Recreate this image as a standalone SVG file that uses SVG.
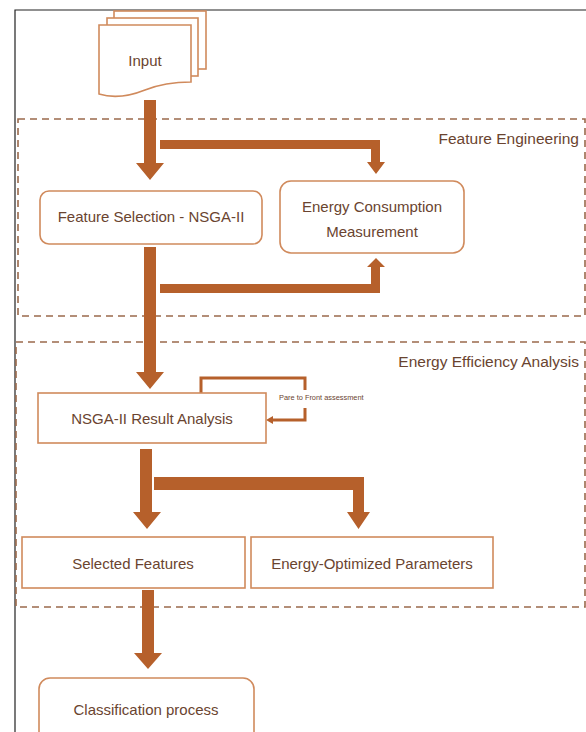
<svg xmlns="http://www.w3.org/2000/svg" width="586" height="732" viewBox="0 0 586 732">
<style>
.frame{fill:none;stroke:#222;stroke-width:1.2}
.group{fill:none;stroke:#9a6a4c;stroke-width:1.6;stroke-dasharray:7 5}
.box{fill:#fff;stroke:#d08a5c;stroke-width:1.6}
.arrow{fill:#b6602b;stroke:none}
.loop{fill:none;stroke:#b6602b;stroke-width:3}
text{font-family:"Liberation Sans",Arial,sans-serif;fill:#6a4430}
.t{font-size:15px;text-anchor:middle}
.g{font-size:15.5px;text-anchor:end}
.s{font-size:7.4px}
</style>
<rect width="586" height="732" fill="#fff"/>
<path class="frame" d="M586,10 H15 V732"/>
<g id="feature-engineering">
<path class="group" d="M18,119 H585 V316 H18 Z"/>
<text class="g" x="579" y="144">Feature Engineering</text>
</g>
<g id="energy-efficiency-analysis">
<path class="group" d="M16,342 H585 V607 H16 Z"/>
<text class="g" x="579" y="367">Energy Efficiency Analysis</text>
</g>
<g id="connectors">
<path class="arrow" d="M144,100 H156 V163 H164 L150,180 L136,163 H144 Z"/>
<path class="arrow" d="M160,140 H380 V162 H385 L376,174 L367,162 H371 V149 H160 Z"/>
<path class="arrow" d="M144,247 H156 V372 H164 L150,389 L136,372 H144 Z"/>
<path class="arrow" d="M160,284 H371 V267 H367 L376,258 L385,267 H380 V293 H160 Z"/>
<path class="loop" d="M201,393 V378 H305 V390"/>
<path class="loop" d="M305,408 V420 H272"/>
<path class="arrow" d="M266,420 L273,416 V424 Z"/>
<path class="arrow" d="M140,449 H152 V512 H161 L147,529 L133,512 H140 Z"/>
<path class="arrow" d="M154,477 H364 V512 H370 L358.5,529 L347,512 H353 V490 H154 Z"/>
<path class="arrow" d="M142,590 H154 V653 H162 L148,669 L134,653 H142 Z"/>
</g>
<text class="s" x="279" y="400">Pare to Front assessment</text>
<g id="input">
<rect class="box" x="114" y="11" width="92" height="58"/>
<rect class="box" x="107" y="18" width="91" height="58"/>
<path class="box" d="M99,25 H191 V82 C175,82 160,84 145,90 C130,96 115,99 99,94 Z"/>
<text class="t" x="145" y="66">Input</text>
</g>
<g id="feature-selection">
<rect class="box" x="40" y="191" width="222" height="53" rx="9"/>
<text class="t" x="151" y="222">Feature Selection - NSGA-II</text>
</g>
<g id="energy-consumption">
<rect class="box" x="280" y="181" width="184" height="72" rx="11"/>
<text class="t" x="372" y="212">Energy Consumption</text>
<text class="t" x="372" y="237">Measurement</text>
</g>
<g id="nsga-result">
<rect class="box" x="38" y="393" width="228" height="50"/>
<text class="t" x="152" y="424">NSGA-II Result Analysis</text>
</g>
<g id="selected-features">
<rect class="box" x="22" y="537" width="223" height="51"/>
<text class="t" x="133" y="569">Selected Features</text>
</g>
<g id="energy-optimized">
<rect class="box" x="251" y="537" width="242" height="51"/>
<text class="t" x="372" y="569">Energy-Optimized Parameters</text>
</g>
<g id="classification">
<rect class="box" x="39" y="678" width="215" height="70" rx="11"/>
<text class="t" x="146" y="715">Classification process</text>
</g>
</svg>
